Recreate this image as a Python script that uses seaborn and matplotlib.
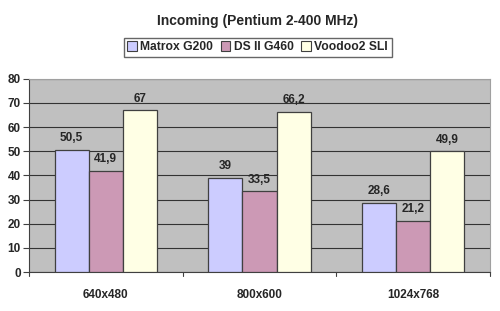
import matplotlib
matplotlib.use("Agg")
import matplotlib.pyplot as plt
import seaborn as sns
import pandas as pd

# ── Data ────────────────────────────────────────────────────────────────────
resolutions = ["640x480", "800x600", "1024x768"]
cards = ["Matrox G200", "DS II G460", "Voodoo2 SLI"]
matrox = [50.5, 39, 28.6]
ds2 = [41.9, 33.5, 21.2]
voodoo = [67, 66.2, 49.9]
y_ticks = [0, 10, 20, 30, 40, 50, 60, 70, 80]

colors = ["#CCCCFF", "#CC99B5", "#FFFFE5"]

df = pd.DataFrame({
    "res": resolutions * 3,
    "card": [c for c in cards for _ in resolutions],
    "fps": matrox + ds2 + voodoo,
})

sns.set_style("white")
plt.rcParams["font.family"] = ["Liberation Sans", "DejaVu Sans"]
plt.rcParams["font.weight"] = "bold"

fig = plt.figure(figsize=(5.0, 3.11), dpi=100)
ax = fig.add_axes([0.058, 0.125, 0.922, 0.622])

sns.barplot(data=df, x="res", y="fps", hue="card", order=resolutions,
            hue_order=cards, palette=colors, width=0.667, gap=0,
            edgecolor="#404040", linewidth=0.9, saturation=1, ax=ax, zorder=3)

ax.set_facecolor("#C0C0C0")
ax.set_ylim(0, 80)
ax.set_xlim(-0.5, 2.5)
ax.set_yticks(y_ticks)
ax.yaxis.grid(True, color="#333333", linewidth=0.8, zorder=0)
ax.set_axisbelow(True)
for s in ["top", "right"]:
    ax.spines[s].set_color("#A0A0A0")
for s in ["left", "bottom"]:
    ax.spines[s].set_color("#404040")
ax.set_xlabel("")
ax.set_ylabel("")
ax.tick_params(axis="y", labelsize=8.5, length=4, left=True, color="#404040", pad=2)
ax.set_xticks([0, 1, 2])
ax.set_xticklabels(resolutions, fontsize=8.5, fontweight="bold")
ax.tick_params(axis="x", length=0, pad=12)
for xb in [-0.5, 0.5, 1.5, 2.5]:
    ax.plot([xb, xb], [0, -1.8], color="#404040", lw=0.8, clip_on=False)
for lab in ax.get_yticklabels():
    lab.set_fontweight("bold")

for cont in ax.containers:
    labels = [f"{v:g}".replace(".", ",") for v in cont.datavalues]
    ax.bar_label(cont, labels=labels, padding=4, fontsize=8.5, fontweight="bold")

ax.legend_.remove()
handles = [plt.Rectangle((0, 0), 1, 1, facecolor=c, edgecolor="#404040", lw=0.8)
           for c in colors]
fig.legend(handles, cards, loc="center", bbox_to_anchor=(0.515, 0.848),
           ncol=3, frameon=True, fancybox=False, edgecolor="#404040",
           handlelength=0.8, handleheight=0.8, handletextpad=0.3, columnspacing=0.6,
           borderpad=0.3, prop={"weight": "bold", "size": 8.7})

fig.text(0.515, 0.933, "Incoming (Pentium 2-400 MHz)", ha="center", va="center",
         fontsize=10, fontweight="bold")

fig.savefig("out.png", dpi=100)
